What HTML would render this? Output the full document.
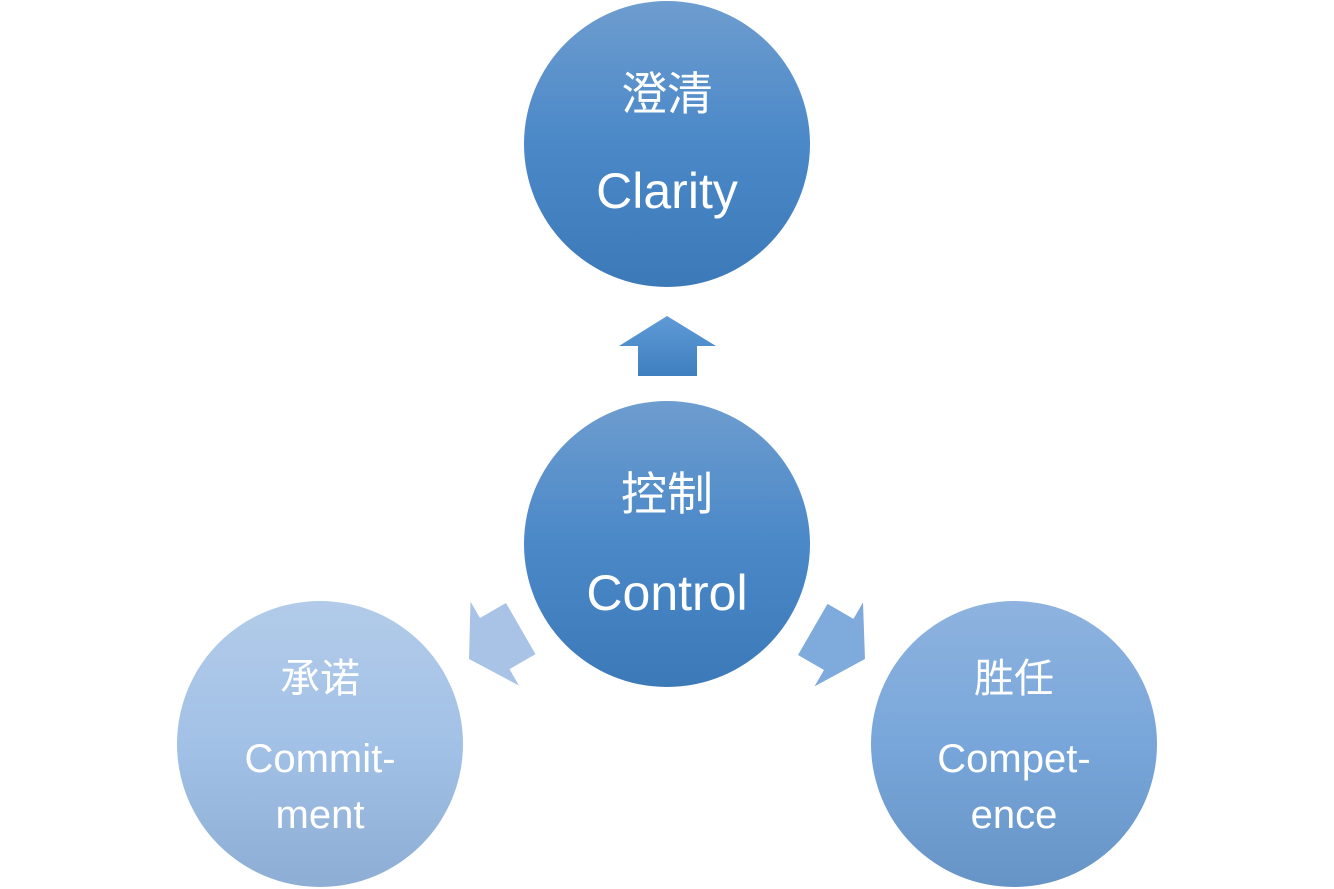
<!DOCTYPE html>
<html><head><meta charset="utf-8"><style>
html,body{margin:0;padding:0;background:#fff;width:1334px;height:889px;overflow:hidden}
text{font-family:"Liberation Sans","Noto Sans CJK SC",sans-serif;fill:#fff;text-anchor:middle}
</style></head><body>
<svg width="1334" height="889" viewBox="0 0 1334 889">
<defs>
<linearGradient id="g1" x1="0" y1="0" x2="0" y2="1"><stop offset="0" stop-color="#6e9dcf"/><stop offset="0.5" stop-color="#4a88c8"/><stop offset="1" stop-color="#3c79b8"/></linearGradient>
<linearGradient id="g2" x1="0" y1="0" x2="0" y2="1"><stop offset="0" stop-color="#b2cbe9"/><stop offset="0.5" stop-color="#a2c1e6"/><stop offset="1" stop-color="#8eadd4"/></linearGradient>
<linearGradient id="g3" x1="0" y1="0" x2="0" y2="1"><stop offset="0" stop-color="#8eb3df"/><stop offset="0.5" stop-color="#78a6da"/><stop offset="1" stop-color="#6694c6"/></linearGradient>
<linearGradient id="a1" x1="0" y1="0" x2="0" y2="1"><stop offset="0" stop-color="#5f9ad6"/><stop offset="1" stop-color="#3f7fc0"/></linearGradient>
<linearGradient id="a2" x1="0" y1="0" x2="0" y2="1"><stop offset="0" stop-color="#b4cdea"/><stop offset="1" stop-color="#98b6dc"/></linearGradient>
<linearGradient id="a3" x1="0" y1="0" x2="0" y2="1"><stop offset="0" stop-color="#8ab2e0"/><stop offset="1" stop-color="#6e9dd2"/></linearGradient>
<polygon id="arr" points="0,-30 49,0 30,0 30,30 -29,30 -29,0 -48,0"/>
</defs>
<circle cx="667" cy="144" r="143" fill="url(#g1)"/>
<circle cx="667" cy="544" r="143" fill="url(#g1)"/>
<circle cx="320" cy="744" r="143" fill="url(#g2)"/>
<circle cx="1014" cy="744" r="143" fill="url(#g3)"/>
<use href="#arr" transform="translate(667,346)" fill="url(#a1)"/>
<g transform="translate(495,644) rotate(-120)"><polygon points="0,-30 49,0 30,0 30,30 -29,30 -29,0 -48,0" fill="#a8c3e6"/></g>
<g transform="translate(839,644) rotate(120)"><polygon points="0,-30 49,0 30,0 30,30 -29,30 -29,0 -48,0" fill="#7eaadc"/></g>
<text x="667" y="110" font-size="46">澄清</text>
<text x="667" y="208" font-size="50">Clarity</text>
<text x="667" y="510" font-size="46">控制</text>
<text x="667" y="610" font-size="50">Control</text>
<text x="320" y="692" font-size="40">承诺</text>
<text x="320" y="772" font-size="40">Commit-</text>
<text x="320" y="828" font-size="40">ment</text>
<text x="1014" y="692" font-size="40">胜任</text>
<text x="1014" y="772" font-size="40">Compet-</text>
<text x="1014" y="828" font-size="40">ence</text>
</svg>
</body></html>
